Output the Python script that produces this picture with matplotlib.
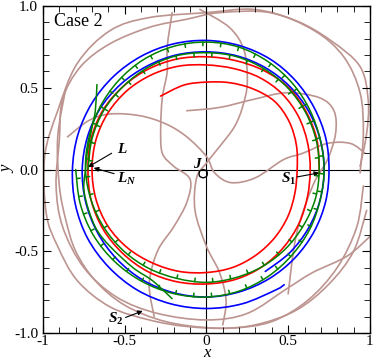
import numpy as np
import matplotlib
matplotlib.use("Agg")
import matplotlib.pyplot as plt
from matplotlib import patheffects
from matplotlib.path import Path
from matplotlib.patches import PathPatch

plt.rcParams['font.family'] = ['Liberation Serif', 'DejaVu Serif']
plt.rcParams['mathtext.fontset'] = 'custom'
plt.rcParams['mathtext.it'] = 'Liberation Serif:italic:bold'
plt.rcParams['mathtext.rm'] = 'Liberation Serif:bold'
plt.rcParams['mathtext.bf'] = 'Liberation Serif:bold'

# red spiral (clockwise), angle in degrees, radius
red_theta = [122, 105, 90, 75, 60, 45, 30, 15, 0, -15, -30, -45, -60, -75, -90,
             -105, -120, -135, -150, -165, -180, -195, -210, -225, -240, -255,
             -270, -285, -300, -315, -330, -345, -360, -375, -390, -405, -420,
             -435, -450, -465, -480, -495, -510, -525, -540, -555, -570, -585,
             -600, -615, -630, -645, -660, -675, -690, -705, -720, -722]
red_r = [0.53, 0.535, 0.535, 0.55, 0.57, 0.59, 0.585, 0.57, 0.555, 0.56, 0.575,
         0.59, 0.605, 0.62, 0.63, 0.645, 0.66, 0.68, 0.695, 0.70, 0.70, 0.70,
         0.695, 0.685, 0.67, 0.655, 0.64, 0.64, 0.65, 0.655, 0.65, 0.64, 0.635,
         0.64, 0.655, 0.67, 0.685, 0.695, 0.70, 0.71, 0.72, 0.725, 0.73, 0.73,
         0.725, 0.73, 0.73, 0.72, 0.71, 0.70, 0.69, 0.69, 0.70, 0.71, 0.705,
         0.70, 0.69, 0.69]

# blue spiral (counter-clockwise)
blue_theta = [-60, -45, -30, -15, 0, 15, 30, 45, 60, 75, 90, 105, 120, 135, 150,
              165, 180, 195, 210, 225, 240, 255, 270, 285, 300, 315, 330, 345,
              360, 375, 390, 405, 420, 435, 450, 465, 480, 495, 510, 525, 540,
              555, 570, 585, 600, 615, 630, 645, 660, 664]
blue_r = [0.72, 0.72, 0.72, 0.72, 0.72, 0.72, 0.72, 0.72, 0.72, 0.72, 0.72, 0.725,
          0.73, 0.74, 0.75, 0.755, 0.76, 0.765, 0.77, 0.775, 0.78, 0.78, 0.78,
          0.775, 0.77, 0.765, 0.76, 0.755, 0.75, 0.755, 0.76, 0.77, 0.78, 0.785,
          0.79, 0.795, 0.80, 0.805, 0.81, 0.815, 0.82, 0.83, 0.84, 0.845, 0.85,
          0.85, 0.85, 0.85, 0.85, 0.85]

# green cusped orbit (counter-clockwise)
green_theta = [180, 195, 210, 225, 240, 255, 270, 285, 300, 315, 330, 345, 360,
               375, 390, 405, 420, 435, 450, 465, 480, 495, 510, 525, 540, 555,
               570, 585, 600, 615, 630, 645, 660, 675, 690, 705, 720, 735, 750,
               765, 780, 795, 810, 825, 840, 855, 870, 885, 900]
green_r = [0.80, 0.80, 0.80, 0.795, 0.79, 0.785, 0.78, 0.77, 0.755, 0.74, 0.73,
           0.72, 0.72, 0.72, 0.73, 0.745, 0.76, 0.775, 0.78, 0.78, 0.775, 0.765,
           0.755, 0.745, 0.74, 0.73, 0.72, 0.71, 0.70, 0.69, 0.69, 0.685, 0.685,
           0.685, 0.685, 0.69, 0.69, 0.695, 0.70, 0.705, 0.71, 0.715, 0.715,
           0.72, 0.72, 0.72, 0.725, 0.725, 0.725]

# green transient strand
strand_x = [-0.67, -0.68, -0.70, -0.73, -0.74, -0.75, -0.72, -0.67, -0.59, -0.45, -0.33, -0.21]
strand_y = [0.52, 0.36, 0.26, 0.10, 0.0, -0.12, -0.25, -0.37, -0.47, -0.60, -0.68, -0.79]

# brown trajectories
brown = [
    ([0.94, 0.98, 0.99, 0.94, 0.76, 0.55, 0.29, 0.0, -0.35, -0.59, -0.79, -0.91, -0.99, -0.98, -0.91, -0.79, -0.59, -0.35, -0.12, 0.15, 0.40, 0.62, 0.80, 0.92, 0.96],
     [0.02, 0.22, 0.42, 0.63, 0.79, 0.91, 0.98, 0.96, 0.93, 0.85, 0.65, 0.36, 0.08, -0.27, -0.47, -0.68, -0.84, -0.92, -0.96, -0.97, -0.93, -0.80, -0.60, -0.35, -0.10]),
    ([0.94, 0.96, 0.94, 0.84, 0.66, 0.39, 0.08, -0.12, -0.35, -0.59, -0.77, -0.88, -0.90, -0.92, -0.88, -0.75, -0.55, -0.30, 0.0, 0.25, 0.49, 0.65, 0.86, 1.0],
     [-0.02, 0.22, 0.47, 0.69, 0.85, 0.96, 0.96, 0.92, 0.87, 0.77, 0.63, 0.43, 0.18, -0.10, -0.35, -0.60, -0.78, -0.88, -0.92, -0.88, -0.73, -0.63, -0.53, -0.41]),
    ([-0.86, -0.91, -0.90, -0.86, -0.80, -0.68, -0.50, -0.25, 0.05, 0.30, 0.55, 0.75, 0.90, 0.98],
     [0.50, 0.20, -0.10, -0.31, -0.50, -0.68, -0.83, -0.93, -0.97, -0.95, -0.86, -0.70, -0.50, -0.25]),
    ([-0.04, 0.14, 0.23, 0.25, 0.22, 0.17, 0.08, 0.0, -0.06, -0.07, 0.0, 0.08, 0.12, 0.10],
     [0.98, 0.87, 0.73, 0.53, 0.38, 0.26, 0.14, 0.04, -0.05, -0.25, -0.47, -0.63, -0.80, -0.95]),
    ([-0.85, -0.72, -0.59, -0.41, -0.25, -0.12, 0.0, 0.05, 0.15, 0.30, 0.47, 0.59, 0.74, 0.88, 0.97],
     [0.20, 0.30, 0.34, 0.33, 0.28, 0.20, 0.08, -0.02, -0.08, -0.05, 0.06, 0.10, 0.16, 0.16, 0.10]),
    ([-0.21, -0.24, -0.24, -0.27, -0.28, -0.27, -0.20, -0.10, -0.12, -0.20, -0.30, -0.35, -0.32],
     [0.96, 0.75, 0.60, 0.44, 0.25, 0.10, 0.02, -0.06, -0.20, -0.35, -0.50, -0.70, -0.90]),
    ([-0.12, 0.08, 0.29, 0.49, 0.69, 0.78, 0.79, 0.74, 0.65, 0.55, 0.50],
     [0.36, 0.38, 0.43, 0.47, 0.44, 0.36, 0.22, 0.06, -0.10, -0.40, -0.76]),
]

# J orbit
j_x = [-0.02, 0.0, 0.005, 0.0, -0.02, -0.04, -0.045, -0.04, -0.02]
j_y = [0.0, -0.008, -0.025, -0.042, -0.05, -0.042, -0.025, -0.008, 0.0]


def polar(theta, r):
    t = np.radians(theta)
    return np.array(r) * np.cos(t), np.array(r) * np.sin(t)


def smooth(ax, x, y, **kw):
    # draw a smooth curve through the points (Catmull-Rom as cubic Bezier)
    p = np.column_stack([x, y]).astype(float)
    ext = np.vstack([p[0], p, p[-1]])
    verts = [p[0]]
    codes = [Path.MOVETO]
    for i in range(1, len(ext) - 2):
        p0, p1, p2, p3 = ext[i - 1], ext[i], ext[i + 1], ext[i + 2]
        verts += [p1 + (p2 - p0) / 6, p2 - (p3 - p1) / 6, p2]
        codes += [Path.CURVE4] * 3
    patch = PathPatch(Path(verts, codes), fill=False, capstyle='round',
                      joinstyle='round', **kw)
    ax.add_patch(patch)
    return patch


fig = plt.figure(figsize=(3.74, 3.60), dpi=100)
ax = fig.add_axes([0.115, 0.075, 0.874, 0.908])

for bx, by in brown:
    smooth(ax, bx, by, edgecolor='#bc9490', lw=1.2, zorder=1)

rx, ry = polar(red_theta, red_r)
smooth(ax, rx, ry, edgecolor='red', lw=1.2, zorder=2)

bx, by = polar(blue_theta, blue_r)
smooth(ax, bx, by, edgecolor='blue', lw=1.2, zorder=3)

gx, gy = polar(green_theta, green_r)
ticks = [patheffects.withTickedStroke(spacing=13, angle=90, length=0.2)]
smooth(ax, gx, gy, edgecolor='#008000', lw=1.1, zorder=4, path_effects=ticks)
smooth(ax, strand_x, strand_y, edgecolor='#008000', lw=1.1, zorder=4)

smooth(ax, j_x, j_y, edgecolor='black', lw=1.0, zorder=5)

ax.axhline(0, color='black', lw=0.8, zorder=0)
ax.axvline(0, color='black', lw=0.8, zorder=0)

ax.set_xlim(-1, 1)
ax.set_ylim(-1, 1)
ax.set_xticks([-1, -0.5, 0, 0.5, 1])
ax.set_xticklabels(['-1', '-0.5', '0', '0.5', '1'])
ax.set_yticks([-1, -0.5, 0, 0.5, 1])
ax.set_yticklabels(['-1.0', '-0.5', '0.0', '0.5', '1.0'])
ax.set_xticks(np.arange(-1, 1.01, 0.1), minor=True)
ax.set_yticks(np.arange(-1, 1.01, 0.1), minor=True)
ax.tick_params(which='both', direction='in', top=True, right=True, labelsize=11)
ax.tick_params(axis='x', pad=1.5)
ax.tick_params(which='major', length=6)
ax.tick_params(which='minor', length=4)
for s in ax.spines.values():
    s.set_linewidth(1.0)

ax.set_xlabel('x', fontsize=12, fontstyle='italic')
ax.set_ylabel('y', fontsize=12, fontstyle='italic')
ax.xaxis.label.set_verticalalignment('baseline')
ax.xaxis.set_label_coords(0.5, -0.072)
ax.yaxis.set_label_coords(-0.085, 0.5)

ax.text(-0.93, 0.905, 'Case 2', fontsize=13, va='center', ha='left')

arrow = dict(arrowstyle='-|>', color='black', lw=0.8, mutation_scale=7, shrinkA=0, shrinkB=0)
bi = dict(fontsize=11, fontweight='bold', fontstyle='italic')
ax.text(-0.545, 0.12, 'L', va='center', **bi)
ax.annotate('', xy=(-0.725, 0.015), xytext=(-0.58, 0.10), arrowprops=arrow)
ax.text(-0.545, -0.055, '$L_N$', va='center', fontsize=11)
ax.annotate('', xy=(-0.69, 0.01), xytext=(-0.565, -0.025), arrowprops=arrow)
ax.text(0.455, -0.06, '$S_1$', va='center', fontsize=11)
ax.annotate('', xy=(0.69, -0.02), xytext=(0.555, -0.045), arrowprops=arrow)
ax.text(-0.605, -0.915, '$S_2$', va='center', fontsize=11)
ax.annotate('', xy=(-0.39, -0.865), xytext=(-0.495, -0.905), arrowprops=arrow)
ax.text(-0.085, 0.03, 'J', va='center', **bi)

fig.savefig('out.png', dpi=100)
